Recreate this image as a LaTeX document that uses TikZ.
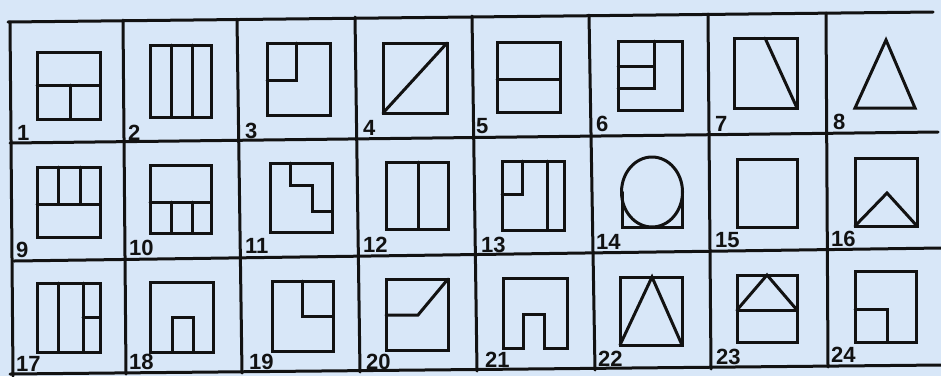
\documentclass[tikz,border=0pt]{standalone}
\usepackage{fontspec}
\setmainfont{Liberation Sans}
\definecolor{bgblue}{RGB}{216,231,248}
\definecolor{ink}{RGB}{18,18,18}
\tikzset{
  gridline/.style={draw=ink, line width=3pt, line cap=round},
  fig/.style={draw=ink, line width=3pt, line cap=round, line join=miter},
  lbl/.style={anchor=base west, inner sep=0pt, text=ink, font=\fontsize{22}{22}\selectfont\bfseries}
}
\begin{document}
\begin{tikzpicture}[x=1pt,y=-1pt]
\fill[bgblue] (0,0) rectangle (941,376);
\useasboundingbox (0,0) rectangle (941,376);
% grid
\draw[gridline] (8,22) -- (933,12);
\draw[gridline] (10,143) -- (938,132);
\draw[gridline] (14,261) -- (941,248);
\draw[gridline] (10,374) -- (941,365);
\draw[gridline] (10,22) -- (13,376);
\draw[gridline] (123,20) -- (126,374);
\draw[gridline] (237,19) -- (242,373);
\draw[gridline] (355,17) -- (360,372);
\draw[gridline] (472,16) -- (477,371);
\draw[gridline] (589,15) -- (595,370);
\draw[gridline] (708,14) -- (711,369);
\draw[gridline] (826,13) -- (828,367);
% row 1
\draw[fig] (37,52) rectangle (100,119); \draw[fig] (37,85) -- (100,85); \draw[fig] (70,85) -- (70,119);
\draw[fig] (150,45) rectangle (211,117); \draw[fig] (171,45) -- (171,117); \draw[fig] (192,45) -- (192,117);
\draw[fig] (267,43) rectangle (330,115); \draw[fig] (296,43) -- (296,80) -- (267,80);
\draw[fig] (383,43) rectangle (447,113); \draw[fig] (383,113) -- (447,43);
\draw[fig] (497,42) rectangle (560,112); \draw[fig] (497,79) -- (560,79);
\draw[fig] (618,41) rectangle (682,110); \draw[fig] (654,41) -- (654,88) -- (618,88); \draw[fig] (618,66) -- (654,66);
\draw[fig] (734,38) rectangle (797,108); \draw[fig] (765,38) -- (797,108);
\draw[fig] (855,108) -- (886,40) -- (915,108) -- cycle;
% row 2
\draw[fig] (37,167) rectangle (100,237); \draw[fig] (37,204) -- (100,204); \draw[fig] (58,167) -- (58,204); \draw[fig] (80,167) -- (80,204);
\draw[fig] (150,165) rectangle (211,233); \draw[fig] (150,202) -- (211,202); \draw[fig] (171,202) -- (171,233); \draw[fig] (192,202) -- (192,233);
\draw[fig] (270,163) rectangle (332,232); \draw[fig] (290,163) -- (290,185) -- (312,185) -- (312,211) -- (332,211);
\draw[fig] (386,162) rectangle (448,229); \draw[fig] (418,162) -- (418,229);
\draw[fig] (502,161) rectangle (564,230); \draw[fig] (522,161) -- (522,194) -- (502,194); \draw[fig] (547,161) -- (547,230);
\draw[fig] (652,192) ellipse [x radius=30.5, y radius=35]; \draw[fig] (622,192) -- (622,227) -- (682,227) -- (682,192);
\draw[fig] (737,159) rectangle (797,227);
\draw[fig] (855,158) rectangle (917,226); \draw[fig] (855,226) -- (887,193) -- (917,226);
% row 3
\draw[fig] (37,283) rectangle (100,352); \draw[fig] (58,283) -- (58,352); \draw[fig] (83,283) -- (83,352); \draw[fig] (83,317) -- (100,317);
\draw[fig] (150,282) rectangle (213,352); \draw[fig] (172,352) -- (172,317) -- (193,317) -- (193,352);
\draw[fig] (272,281) rectangle (333,351); \draw[fig] (302,281) -- (302,316) -- (333,316);
\draw[fig] (386,279) rectangle (448,350); \draw[fig] (386,315) -- (418,315) -- (448,279);
\draw[fig] (503,348) -- (503,278) -- (567,278) -- (567,348) -- (544,348) -- (544,314) -- (523,314) -- (523,348) -- cycle;
\draw[fig] (620,277) rectangle (682,345); \draw[fig] (620,345) -- (652,277) -- (682,345);
\draw[fig] (737,275) rectangle (797,342); \draw[fig] (737,310) -- (797,310); \draw[fig] (737,310) -- (767,275) -- (797,310);
\draw[fig] (855,271) rectangle (916,342); \draw[fig] (855,309) -- (887,309) -- (887,342);
% labels
\node[lbl] (n1) at (17,140) {1};
\node[lbl] (n2) at (128,140) {2};
\node[lbl] (n3) at (245,138) {3};
\node[lbl] (n4) at (363,135) {4};
\node[lbl] (n5) at (476,133) {5};
\node[lbl] (n6) at (596,131) {6};
\node[lbl] (n7) at (715,131) {7};
\node[lbl] (n8) at (833,129) {8};
\node[lbl] (n9) at (16,257) {9};
\node[lbl] (n10) at (129,255) {10};
\node[lbl] (n11) at (245,253) {11};
\node[lbl] (n12) at (363,252) {12};
\node[lbl] (n13) at (481,252) {13};
\node[lbl] (n14) at (596,249) {14};
\node[lbl] (n15) at (715,247) {15};
\node[lbl] (n16) at (831,246) {16};
\node[lbl] (n17) at (16,371) {17};
\node[lbl] (n18) at (129,369) {18};
\node[lbl] (n19) at (249,369) {19};
\node[lbl] (n20) at (366,369) {20};
\node[lbl] (n21) at (485,367) {21};
\node[lbl] (n22) at (598,366) {22};
\node[lbl] (n23) at (716,364) {23};
\node[lbl] (n24) at (831,362) {24};
\end{tikzpicture}
\end{document}
